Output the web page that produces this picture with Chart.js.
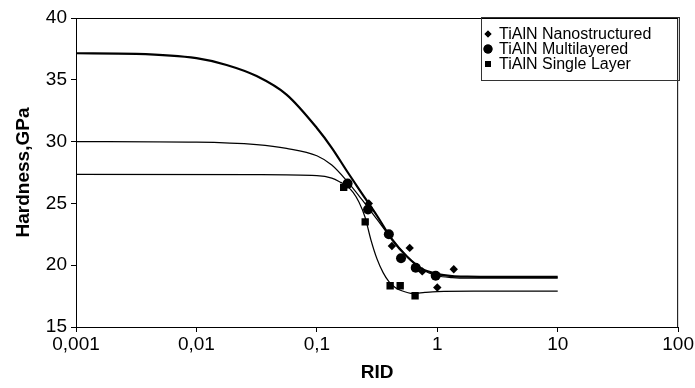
<!DOCTYPE html>
<html>
<head>
<meta charset="utf-8">
<script src="https://cdn.jsdelivr.net/npm/chart.js@4/dist/chart.umd.min.js"></script>
<style>
  html, body { margin: 0; padding: 0; background: #fff; }
  #wrap { width: 695px; height: 388px; }
</style>
</head>
<body>
<div id="wrap"><canvas id="hardnessChart"></canvas></div>
<script>
// measured points
const nanoX = [0.27, 0.42, 0.59, 0.75, 1.0, 1.37];
const nanoY = [25.0, 21.55, 21.4, 19.5, 18.2, 19.67];
const multiX = [0.18, 0.266, 0.396, 0.5, 0.662, 0.97];
const multiY = [26.6, 24.5, 22.5, 20.56, 19.8, 19.15];
const singleX = [0.167, 0.252, 0.406, 0.492, 0.654];
const singleY = [26.3, 23.5, 18.34, 18.34, 17.53];

// fitted curves
const fitNanoX = [0.001, 0.00316, 0.01, 0.0178, 0.0316, 0.056, 0.1, 0.133, 0.178, 0.237, 0.316, 0.42, 0.56, 0.75, 1, 1.33, 1.78, 3.16, 10];
const fitNanoY = [37.15, 37.1, 36.75, 36.2, 35.3, 33.8, 31.1, 29.5, 27.6, 25.8, 24.0, 22.1, 20.7, 19.7, 19.3, 19.12, 19.07, 19.05, 19.05];
const fitMultiX = [0.001, 0.01, 0.0316, 0.056, 0.1, 0.133, 0.178, 0.237, 0.316, 0.42, 0.56, 0.75, 1, 1.33, 1.78, 10];
const fitMultiY = [30.0, 29.95, 29.75, 29.45, 28.85, 28.1, 26.8, 25.3, 23.7, 22.1, 20.7, 19.65, 19.15, 19.0, 18.95, 18.95];
const fitSingleX = [0.001, 0.0316, 0.1, 0.133, 0.158, 0.178, 0.2, 0.224, 0.251, 0.282, 0.316, 0.355, 0.398, 0.447, 0.5, 0.63, 0.79, 1, 2, 10];
const fitSingleY = [27.35, 27.33, 27.25, 27.05, 26.7, 26.4, 25.9, 25.1, 23.9, 22.0, 20.5, 19.4, 18.65, 18.2, 17.95, 17.7, 17.8, 17.87, 17.9, 17.9];

const tickVals = [0.001, 0.01, 0.1, 1, 10, 100];
const tickLabels = ['0,001', '0,01', '0,1', '1', '10', '100'];

const seriesNames = ['TiAlN Nanostructured', 'TiAlN Multilayered', 'TiAlN Single Layer'];

const pts = (xs, ys) => xs.map((x, i) => ({ x: x, y: ys[i] }));

function fitLine(xs, ys, width) {
    return {
        data: pts(xs, ys),
        showLine: true,
        borderColor: '#000',
        borderWidth: width,
        pointRadius: 0,
        cubicInterpolationMode: 'monotone',
        fill: false
    };
}

function markers(name, xs, ys, style, r) {
    return {
        label: name,
        data: pts(xs, ys),
        showLine: false,
        pointStyle: style,
        pointRadius: r,
        pointBackgroundColor: '#000',
        pointBorderColor: '#000',
        pointBorderWidth: 0
    };
}

// box around the plot + legend in the top right
const boxAndLegend = {
    id: 'boxAndLegend',
    afterDraw(chart) {
        const ctx = chart.ctx;
        const a = chart.chartArea;
        ctx.save();
        ctx.strokeStyle = '#000';
        ctx.lineWidth = 1;
        ctx.strokeRect(a.left + 0.5, a.top + 0.5, a.right - a.left - 1, a.bottom - a.top);

        ctx.strokeStyle = '#333';
        ctx.strokeRect(481.5, 17.5, 198, 63);
        ctx.fillStyle = '#000';
        ctx.font = '16px "Liberation Sans", Arial, sans-serif';
        ctx.textBaseline = 'middle';
        const styles = [['rectRot', 3.5], ['circle', 4.5], ['rect', 4.2]];
        seriesNames.forEach((name, i) => {
            const y = 34 + i * 15;
            Chart.helpers.drawPoint(ctx, { pointStyle: styles[i][0], radius: styles[i][1], borderWidth: 0 }, 488, y);
            ctx.fill();
            ctx.fillText(name, 499, y + 1);
        });
        ctx.restore();
    }
};

const tickFont = { family: '"Liberation Sans", Arial, sans-serif', size: 19 };
const titleFont = { family: '"Liberation Sans", Arial, sans-serif', size: 19, weight: 'bold' };

new Chart(document.getElementById('hardnessChart').getContext('2d'), {
    type: 'scatter',
    data: {
        datasets: [
            markers(seriesNames[0], nanoX, nanoY, 'rectRot', 4.2),
            markers(seriesNames[1], multiX, multiY, 'circle', 5),
            markers(seriesNames[2], singleX, singleY, 'rect', 5.2),
            fitLine(fitNanoX, fitNanoY, 2.2),
            fitLine(fitMultiX, fitMultiY, 1.2),
            fitLine(fitSingleX, fitSingleY, 1.2)
        ]
    },
    options: {
        responsive: true,
        maintainAspectRatio: false,
        animation: false,
        layout: { padding: { top: 18, right: 14, left: 0, bottom: 0 } },
        plugins: {
            legend: { display: false },
            tooltip: { enabled: false }
        },
        scales: {
            x: {
                type: 'logarithmic',
                min: 0.001,
                max: 100,
                afterBuildTicks: (scale) => { scale.ticks = tickVals.map(v => ({ value: v })); },
                afterFit: (scale) => { scale.height = 61; },
                ticks: {
                    color: '#000',
                    font: tickFont,
                    padding: 1,
                    maxRotation: 0,
                    autoSkip: false,
                    callback: (value) => {
                        const i = tickVals.findIndex(v => Math.abs(Math.log10(v) - Math.log10(value)) < 1e-6);
                        return i >= 0 ? tickLabels[i] : '';
                    }
                },
                grid: { drawOnChartArea: false, drawTicks: true, tickLength: 5, color: '#000' },
                border: { color: '#000', width: 1 },
                title: { display: true, text: 'RID', color: '#000', font: titleFont, padding: { top: 0, bottom: 4 } }
            },
            y: {
                min: 15,
                max: 40,
                afterFit: (scale) => { scale.width = 76; },
                ticks: { stepSize: 5, color: '#000', font: tickFont, padding: 4 },
                grid: { drawOnChartArea: false, drawTicks: true, tickLength: 5, color: '#000' },
                border: { color: '#000', width: 1 },
                title: { display: true, text: 'Hardness,GPa', color: '#000', font: titleFont, padding: { top: 12, bottom: 0 } }
            }
        }
    },
    plugins: [boxAndLegend]
});
</script>
</body>
</html>
